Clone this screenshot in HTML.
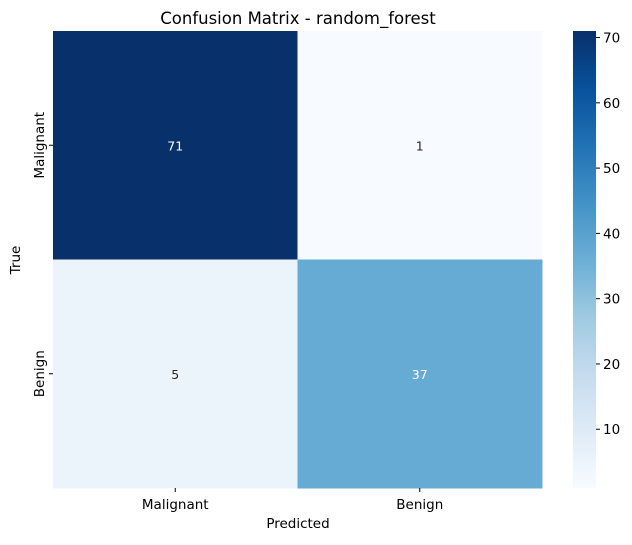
<!DOCTYPE html>
<html><head><meta charset="utf-8"><style>
body{margin:0;background:#fff;font-family:"Liberation Sans","DejaVu Sans",sans-serif}
text{font-family:"DejaVu Sans","Liberation Sans",sans-serif}
</style></head><body>
<svg id="c" width="632" height="540" xmlns="http://www.w3.org/2000/svg">
<defs><linearGradient id="g" x1="0" y1="1" x2="0" y2="0">
<stop offset="0" stop-color="#f7fbff"/><stop offset="0.125" stop-color="#deebf7"/><stop offset="0.25" stop-color="#c6dbef"/><stop offset="0.375" stop-color="#9ecae1"/><stop offset="0.5" stop-color="#6baed6"/><stop offset="0.625" stop-color="#4292c6"/><stop offset="0.75" stop-color="#2171b5"/><stop offset="0.875" stop-color="#08519c"/><stop offset="1" stop-color="#08306b"/>
</linearGradient></defs>
<text x="298" y="24" font-size="16.5" text-anchor="middle">Confusion Matrix - random_forest</text>
<text x="298" y="528" font-size="13.5" text-anchor="middle">Predicted</text>
<text x="0" y="0" font-size="13.5" text-anchor="middle" transform="translate(20,260) rotate(-90)">True</text>
<g id="cells"></g>
<rect x="573" y="31" width="23" height="457" fill="url(#g)"/>
<g id="cb"></g>
</svg>
<script>
const labels=["Malignant","Benign"];
const matrix=[[71,1],[5,37]];
const cbTicks=[10,20,30,40,50,60,70];
const vmin=1,vmax=71;
const stops=["#f7fbff","#deebf7","#c6dbef","#9ecae1","#6baed6","#4292c6","#2171b5","#08519c","#08306b"];
function hex(h){return [1,3,5].map(i=>parseInt(h.substr(i,2),16));}
function cmap(v){let t=(v-vmin)/(vmax-vmin);t=Math.max(0,Math.min(1,t));const p=t*(stops.length-1);const i=Math.min(Math.floor(p),stops.length-2);const f=p-i;const a=hex(stops[i]),b=hex(stops[i+1]);return "rgb("+a.map((x,k)=>Math.round(x+(b[k]-x)*f)).join(",")+")";}
const NS="http://www.w3.org/2000/svg";
const X0=53,X1=542,Y0=31,Y1=488;
const cw=(X1-X0)/labels.length,ch=(Y1-Y0)/labels.length;
const g=document.getElementById("cells");
function mk(t,a,p){const e=document.createElementNS(NS,t);for(const k in a)e.setAttribute(k,a[k]);(p||g).appendChild(e);return e;}
matrix.forEach((row,r)=>row.forEach((v,c)=>{
 const rc=mk("rect",{x:X0+c*cw,y:Y0+r*ch,width:cw+0.5,height:ch+0.5,fill:cmap(v)});
 
 
 const t=mk("text",{x:X0+(c+0.5)*cw,y:Y0+(r+0.5)*ch+5,"font-size":12.5,"text-anchor":"middle",fill:(v-vmin)/(vmax-vmin)>0.5?"#fff":"#262626"});
 t.textContent=v;
 
 
}));
labels.forEach((l,i)=>{
 const x=X0+(i+0.5)*cw;
 mk("line",{x1:x,x2:x,y1:Y1,y2:Y1+4,stroke:"#000"});
 const t=mk("text",{x:x,y:Y1+21,"font-size":13.5,"text-anchor":"middle"});t.textContent=l;
 
 
 const y=Y0+(i+0.5)*ch;
 mk("line",{x1:X0-4,x2:X0,y1:y,y2:y,stroke:"#000"});
 const u=mk("text",{"font-size":13.5,"text-anchor":"middle",transform:"translate("+(X0-9)+","+y+") rotate(-90)"});u.textContent=l;
 
 
});
const cb=document.getElementById("cb");
cbTicks.forEach(v=>{
 const y=Y1-(v-vmin)/(vmax-vmin)*(Y1-Y0);
 mk("line",{x1:596,x2:600,y1:y,y2:y,stroke:"#000"},cb);
 const t=mk("text",{x:603,y:y+5,"font-size":13.5},cb);t.textContent=v;
 
 
});
</script>
</body></html>
